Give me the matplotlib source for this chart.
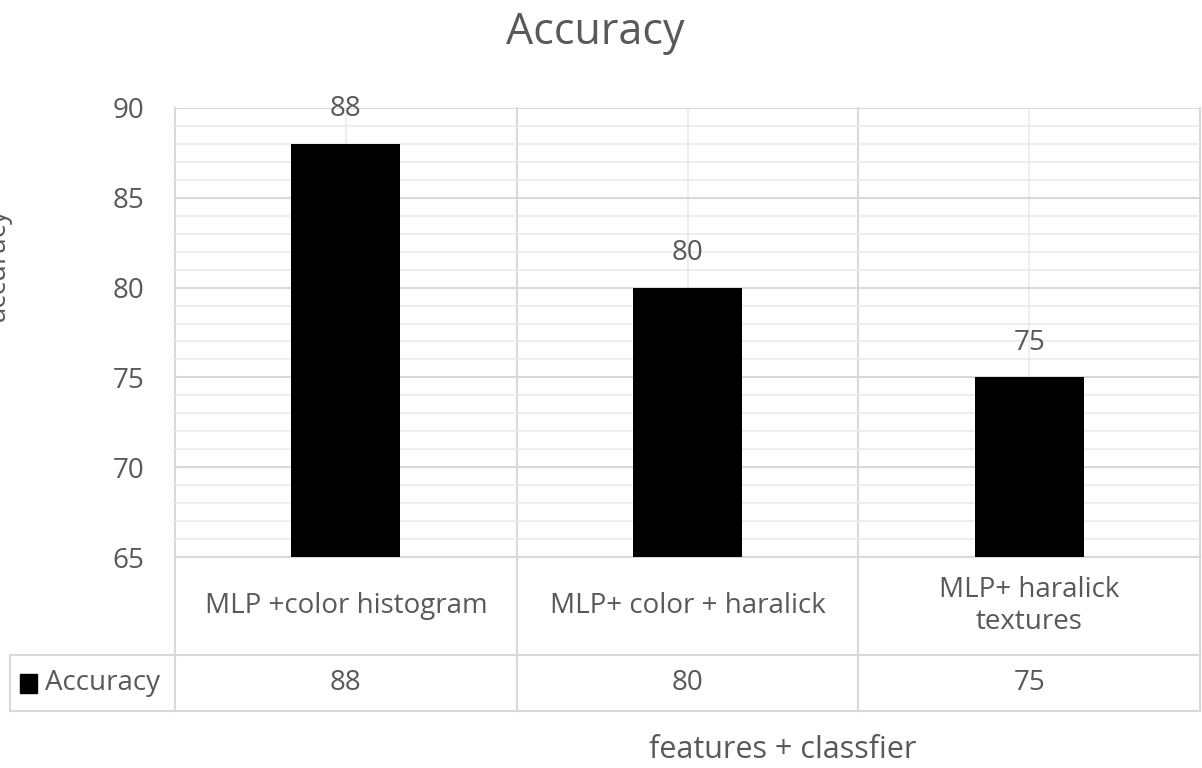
import matplotlib
matplotlib.use("Agg")
import numpy as np
from matplotlib import pyplot as plt
from matplotlib.patches import Rectangle

categories = ["MLP +color histogram", "MLP+ color + haralick", "MLP+ haralick\ntextures"]
accuracy = [88, 80, 75]
series_name = "Accuracy"

plt.rcParams['font.family'] = ['Open Sans', 'DejaVu Sans']
txt = '#595959'
grid_major = '#d9d9d9'
grid_minor = '#ebebeb'
fs = 20

fig = plt.figure(figsize=(12.02, 7.68), dpi=100)
W, H = 1202, 768
ax = fig.add_axes([175 / W, (H - 557) / H, 1025 / W, 449 / H])

x = np.arange(len(categories))
bars = ax.bar(x, accuracy, width=0.32, color='black', bottom=0, zorder=3)
ax.set_ylim(65, 90)
ax.set_xlim(-0.5, len(categories) - 0.5)
ax.bar_label(bars, padding=15, fontsize=fs, color=txt)

ax.set_yticks(np.arange(65, 91, 5))
ax.set_yticks(np.arange(65, 91, 1), minor=True)
ax.set_xticks(x)
ax.set_xticklabels([])
ax.tick_params(axis='both', which='both', length=0)
ax.tick_params(axis='y', labelsize=fs, labelcolor=txt, pad=22)
ax.grid(axis='y', which='minor', color=grid_minor, lw=1.2, zorder=0)
ax.grid(axis='y', which='major', color=grid_major, lw=1.5, zorder=0)
ax.grid(axis='x', which='major', color=grid_minor, lw=1.2, zorder=0)
for s in ax.spines.values():
    s.set_visible(False)

# data table under the plot
row1 = (557 - 655) / 449
row2 = (557 - 711) / 449
left = (10 - 175) / 1025
lkw = dict(color=grid_major, lw=1.5, clip_on=False, transform=ax.transAxes, zorder=1)
ax.plot([0, 1], [0, 0], **lkw)
ax.plot([left, 1], [row1, row1], **lkw)
ax.plot([left, 1], [row2, row2], **lkw)
ax.plot([left, left], [row1, row2], **lkw)
for i in range(len(categories) + 1):
    ax.plot([i / len(categories)] * 2, [1, row2], **lkw)

for i, (c, v) in enumerate(zip(categories, accuracy)):
    xc = (i + 0.5) / len(categories)
    ax.text(xc, row1 / 2, c, ha='center', va='center', fontsize=fs, color=txt,
            transform=ax.transAxes, linespacing=1.15)
    ax.text(xc, (row1 + row2) / 2, str(v), ha='center', va='center', fontsize=fs,
            color=txt, transform=ax.transAxes)

fig.patches.append(Rectangle((20 / W, (H - 693) / H), 17 / W, 19 / H,
                             color='black', transform=fig.transFigure))
fig.text(45 / W, (H - 683) / H, series_name, ha='left', va='center', fontsize=fs, color=txt)

fig.text(595 / W, (H - 33) / H, "Accuracy", ha='center', va='center', fontsize=31, color=txt)
fig.text(783 / W, (H - 750) / H, "features + classfier", ha='center', va='center',
         fontsize=22, color=txt)
fig.text(-2 / W, (H - 265) / H, "accuracy", ha='center', va='center', rotation=90,
         fontsize=fs, color=txt)

fig.savefig("out.png", dpi=100)
